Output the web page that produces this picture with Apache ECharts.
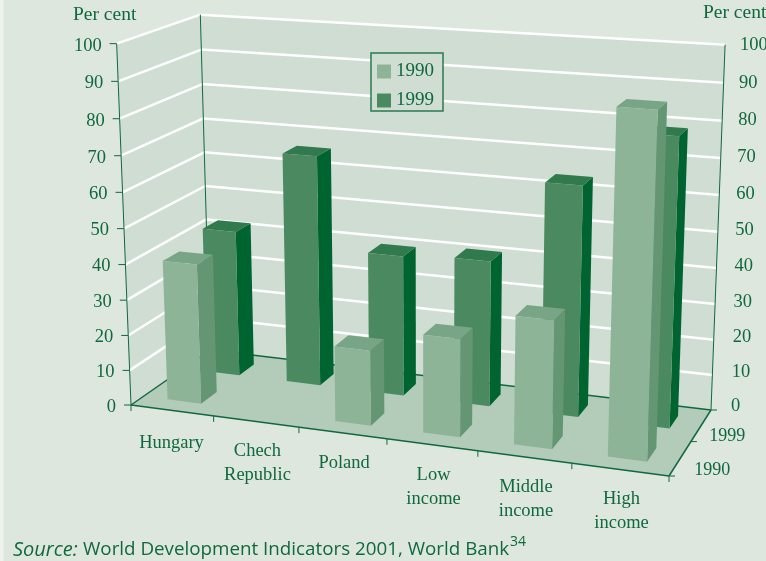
<!DOCTYPE html>
<html><head><meta charset="utf-8">
<style>html,body{margin:0;padding:0;background:#e9efe9}#c{width:766px;height:561px}</style>
<script src="https://cdn.jsdelivr.net/npm/echarts@6/dist/echarts.min.js"></script>
</head><body><div id="c"></div>
<script>
// ---- data ----
const categories = ['Hungary','Chech\nRepublic','Poland','Low\nincome','Middle\nincome','High\nincome'];
const values1990 = [39.7, null, 21, 27, 34.8, 90.8];
const values1999 = [42.3, 66, 40, 41, 64, 79];
const valueTicks = [0,10,20,30,40,50,60,70,80,90,100];
const depthLabels = ['1990','1999'];

// ---- projection of the box (u: category 0..n, v: depth 0..1, h: value 0..100) ----
const floorCorners = [[131,405],[669,476],[711,410],[210,350]]; // (0,0),(1,0),(1,1),(0,1)
const topCorners = [{u:0,v:0,p:[116,43]},{u:0,v:1,p:[201,15]},{u:1,v:1,p:[725,45]}];
function solve(A,b){const n=b.length;const M=A.map((r,i)=>r.concat([b[i]]));
  for(let i=0;i<n;i++){let m=i;for(let k=i+1;k<n;k++)if(Math.abs(M[k][i])>Math.abs(M[m][i]))m=k;
    [M[i],M[m]]=[M[m],M[i]];
    for(let k=0;k<n;k++){if(k===i)continue;const f=M[k][i]/M[i][i];for(let j=i;j<=n;j++)M[k][j]-=f*M[i][j];}}
  return M.map((r,i)=>r[n]/r[i]);}
function floorHomography(){
  const uv=[[0,0],[1,0],[1,1],[0,1]],A=[],b=[];
  uv.forEach((q,i)=>{const [x,y]=floorCorners[i],[u,v]=q;
    A.push([u,v,1,0,0,0,-u*x,-v*x]);b.push(x);
    A.push([0,0,0,u,v,1,-u*y,-v*y]);b.push(y);});
  const s=solve(A,b);return [[s[0],s[1],s[2]],[s[3],s[4],s[5]],[s[6],s[7],1]];
}
const H=floorHomography();
function heightColumn(){
  const R=[],r=[];
  topCorners.forEach(t=>{const f=H.map(w=>w[0]*t.u+w[1]*t.v+w[2]);const [x,y]=t.p;
    R.push([1,0,-x]);r.push(x*f[2]-f[0]);R.push([0,1,-y]);r.push(y*f[2]-f[1]);});
  const N=[[0,0,0],[0,0,0],[0,0,0]],d=[0,0,0];
  R.forEach((row,k)=>{for(let i=0;i<3;i++){d[i]+=row[i]*r[k];for(let j=0;j<3;j++)N[i][j]+=row[i]*row[j];}});
  return solve(N,d);
}
const C=heightColumn();
const n=categories.length;
function P(u,v,h){const U=u/n,t=h/100;
  const w=H.map((m,i)=>m[0]*U+m[1]*v+m[2]+C[i]*t);return [w[0]/w[2],w[1]/w[2]];}

// ---- styling ----
const ink='#11683f', wall='#cfddd2', floorCol='#b3ccba';
const barStyle={ '1990':{front:'#8eb498',top:'#78a585',side:'#659673',v:[0.15,0.35]},
                 '1999':{front:'#4b8a60',top:'#317a4e',side:'#006431',v:[0.65,0.85]} };
const half=0.205;
const poly=(pts,fill)=>({type:'polygon',shape:{points:pts},style:{fill:fill}});
const line=(a,b,c,w)=>({type:'line',shape:{x1:a[0],y1:a[1],x2:b[0],y2:b[1]},style:{stroke:c,lineWidth:w,fill:null}});
const label=(t,x,y,al,size)=>({type:'text',x:x,y:y,style:{text:t,fill:ink,font:(size||18.5)+'px "Liberation Serif"',align:al,verticalAlign:'middle',lineHeight:24}});
function toModel(api,params,cat,val){
  const c=api.coord([cat,val]),r=params.coordSys;
  return {u:(c[0]-r.x)/r.width*n,h:(r.y+r.height-c[1])/r.height*100};
}
function renderBar(name){return function(params,api){
  const cat=api.value(0),val=api.value(1);
  if(val==null||isNaN(val))return null;
  const m=toModel(api,params,cat,val),s=barStyle[name];
  const a=m.u-half,b=m.u+half,v0=s.v[0],v1=s.v[1],h=m.h;
  return {type:'group',children:[
    poly([P(b,v0,0),P(b,v1,0),P(b,v1,h),P(b,v0,h)],s.side),
    poly([P(a,v0,h),P(b,v0,h),P(b,v1,h),P(a,v1,h)],s.top),
    poly([P(a,v0,0),P(b,v0,0),P(b,v0,h),P(a,v0,h)],s.front)
  ]};
};}
function renderRoom(){
  const ch=[
    poly([P(0,0,0),P(0,1,0),P(0,1,100),P(0,0,100)],wall),
    poly([P(0,1,0),P(n,1,0),P(n,1,100),P(0,1,100)],wall),
    poly([P(0,0,0),P(n,0,0),P(n,1,0),P(0,1,0)],floorCol)
  ];
  return {type:'group',children:ch};
}
function renderGrid(params,api){
  const t=api.value(0);const ch=[];
  if(t>0){ch.push(line(P(0,0,t),P(0,1,t),'#fff',2.5));ch.push(line(P(0,1,t),P(n,1,t),'#fff',2.5));}
  const l=P(0,0,t),r=P(n,1,t);
  ch.push(line([l[0]-7,l[1]],l,ink,1));
  ch.push(label(String(t),l[0]-15,l[1]+2,'right'));
  ch.push(label(String(t),r[0]+20-0.05*t,l[1]+1.5,'left'));
  return {type:'group',children:ch};
}
function renderFrame(){
  const ch=[
    line(P(0,0,0),P(0,0,100),ink,1),line(P(0,1,0),P(0,1,100),ink,1),line(P(n,1,0),P(n,1,100),ink,1),
    line(P(0,0,0),P(0,1,0),ink,1.5),line(P(0,1,0),P(n,1,0),ink,1.5),
    line(P(0,0,0),P(n,0,0),ink,1.5),line(P(n,0,0),P(n,1,0),ink,1.5)
  ];
  for(let i=0;i<=n;i++){const p=P(i,0,0);ch.push(line(p,[p[0],p[1]+6],ink,1));}
  [0,0.5,1].forEach(v=>{const p=P(n,v,0);ch.push(line(p,[p[0]+6,p[1]],ink,1));});
  depthLabels.forEach((t,i)=>{const p=P(n,i*0.5+0.25,0);ch.push(label(t,p[0]+(i?8:14),p[1]+(i?11:12),'left',18));});
  return {type:'group',children:ch};
}
function renderCatLabel(params,api){
  const i=api.value(0);const m=toModel(api,params,i,0);const p=P(m.u,0,0);
  const t=categories[i];const lines=t.split('\n').length;
  return label(t,p[0]+(i?1.5:-0.5),p[1]+(i?30:33)+(lines-1)*12,'center');
}
const idx=categories.map((c,i)=>i);
const option={
  animation:false,
  backgroundColor:'#dde7de',
  grid:{left:0,right:0,top:0,bottom:0},
  xAxis:{type:'category',data:categories,show:false},
  yAxis:{type:'value',min:0,max:100,interval:10,show:false},
  legend:{data:['1990','1999'],orient:'vertical',left:371,top:53,padding:[9,9,1,6],itemGap:10,itemWidth:14,itemHeight:14,
    icon:'rect',backgroundColor:wall,borderColor:'#2b7a50',borderWidth:1.5,selectedMode:false,
    textStyle:{color:ink,fontFamily:'Liberation Serif',fontSize:19,lineHeight:14}},
  graphic:[
    {type:'rect',left:0,top:0,shape:{width:3.5,height:561},style:{fill:'#eef3ee'}},
    {type:'text',left:73,top:5,style:{text:'Per cent',fill:ink,font:'19.5px "Liberation Serif"'}},
    {type:'text',left:703,top:3,style:{text:'Per cent',fill:ink,font:'19.5px "Liberation Serif"'}},
    {type:'text',left:13,top:540,style:{text:'Source:',fill:ink,font:'italic 20px "Open Sans"'}},
    {type:'text',left:83,top:540,style:{text:'World Development Indicators 2001, World Bank',fill:ink,font:'18.8px "Open Sans"'}},
    {type:'text',left:510,top:535,style:{text:'34',fill:ink,font:'14px "Open Sans"'}}
  ],
  series:[
    {type:'custom',name:'room',silent:true,coordinateSystem:'cartesian2d',data:[[0,0]],renderItem:renderRoom,z:1},
    {type:'custom',name:'ticks',silent:true,coordinateSystem:'cartesian2d',data:valueTicks.map(t=>[t,t]),encode:{x:-1,y:1},renderItem:renderGrid,z:2},
    {type:'custom',name:'frame',silent:true,coordinateSystem:'cartesian2d',data:[[0,0]],renderItem:renderFrame,z:3},
    {type:'custom',name:'labels',silent:true,coordinateSystem:'cartesian2d',data:idx.map(i=>[i,0]),renderItem:renderCatLabel,z:3},
    {type:'custom',name:'1999',coordinateSystem:'cartesian2d',data:idx.map(i=>[i,values1999[i]]),renderItem:renderBar('1999'),itemStyle:{color:barStyle['1999'].front},z:4},
    {type:'custom',name:'1990',coordinateSystem:'cartesian2d',data:idx.map(i=>[i,values1990[i]]),renderItem:renderBar('1990'),itemStyle:{color:barStyle['1990'].front},z:5}
  ]
};
echarts.init(document.getElementById('c'),null,{renderer:'canvas'}).setOption(option);
</script></body></html>
